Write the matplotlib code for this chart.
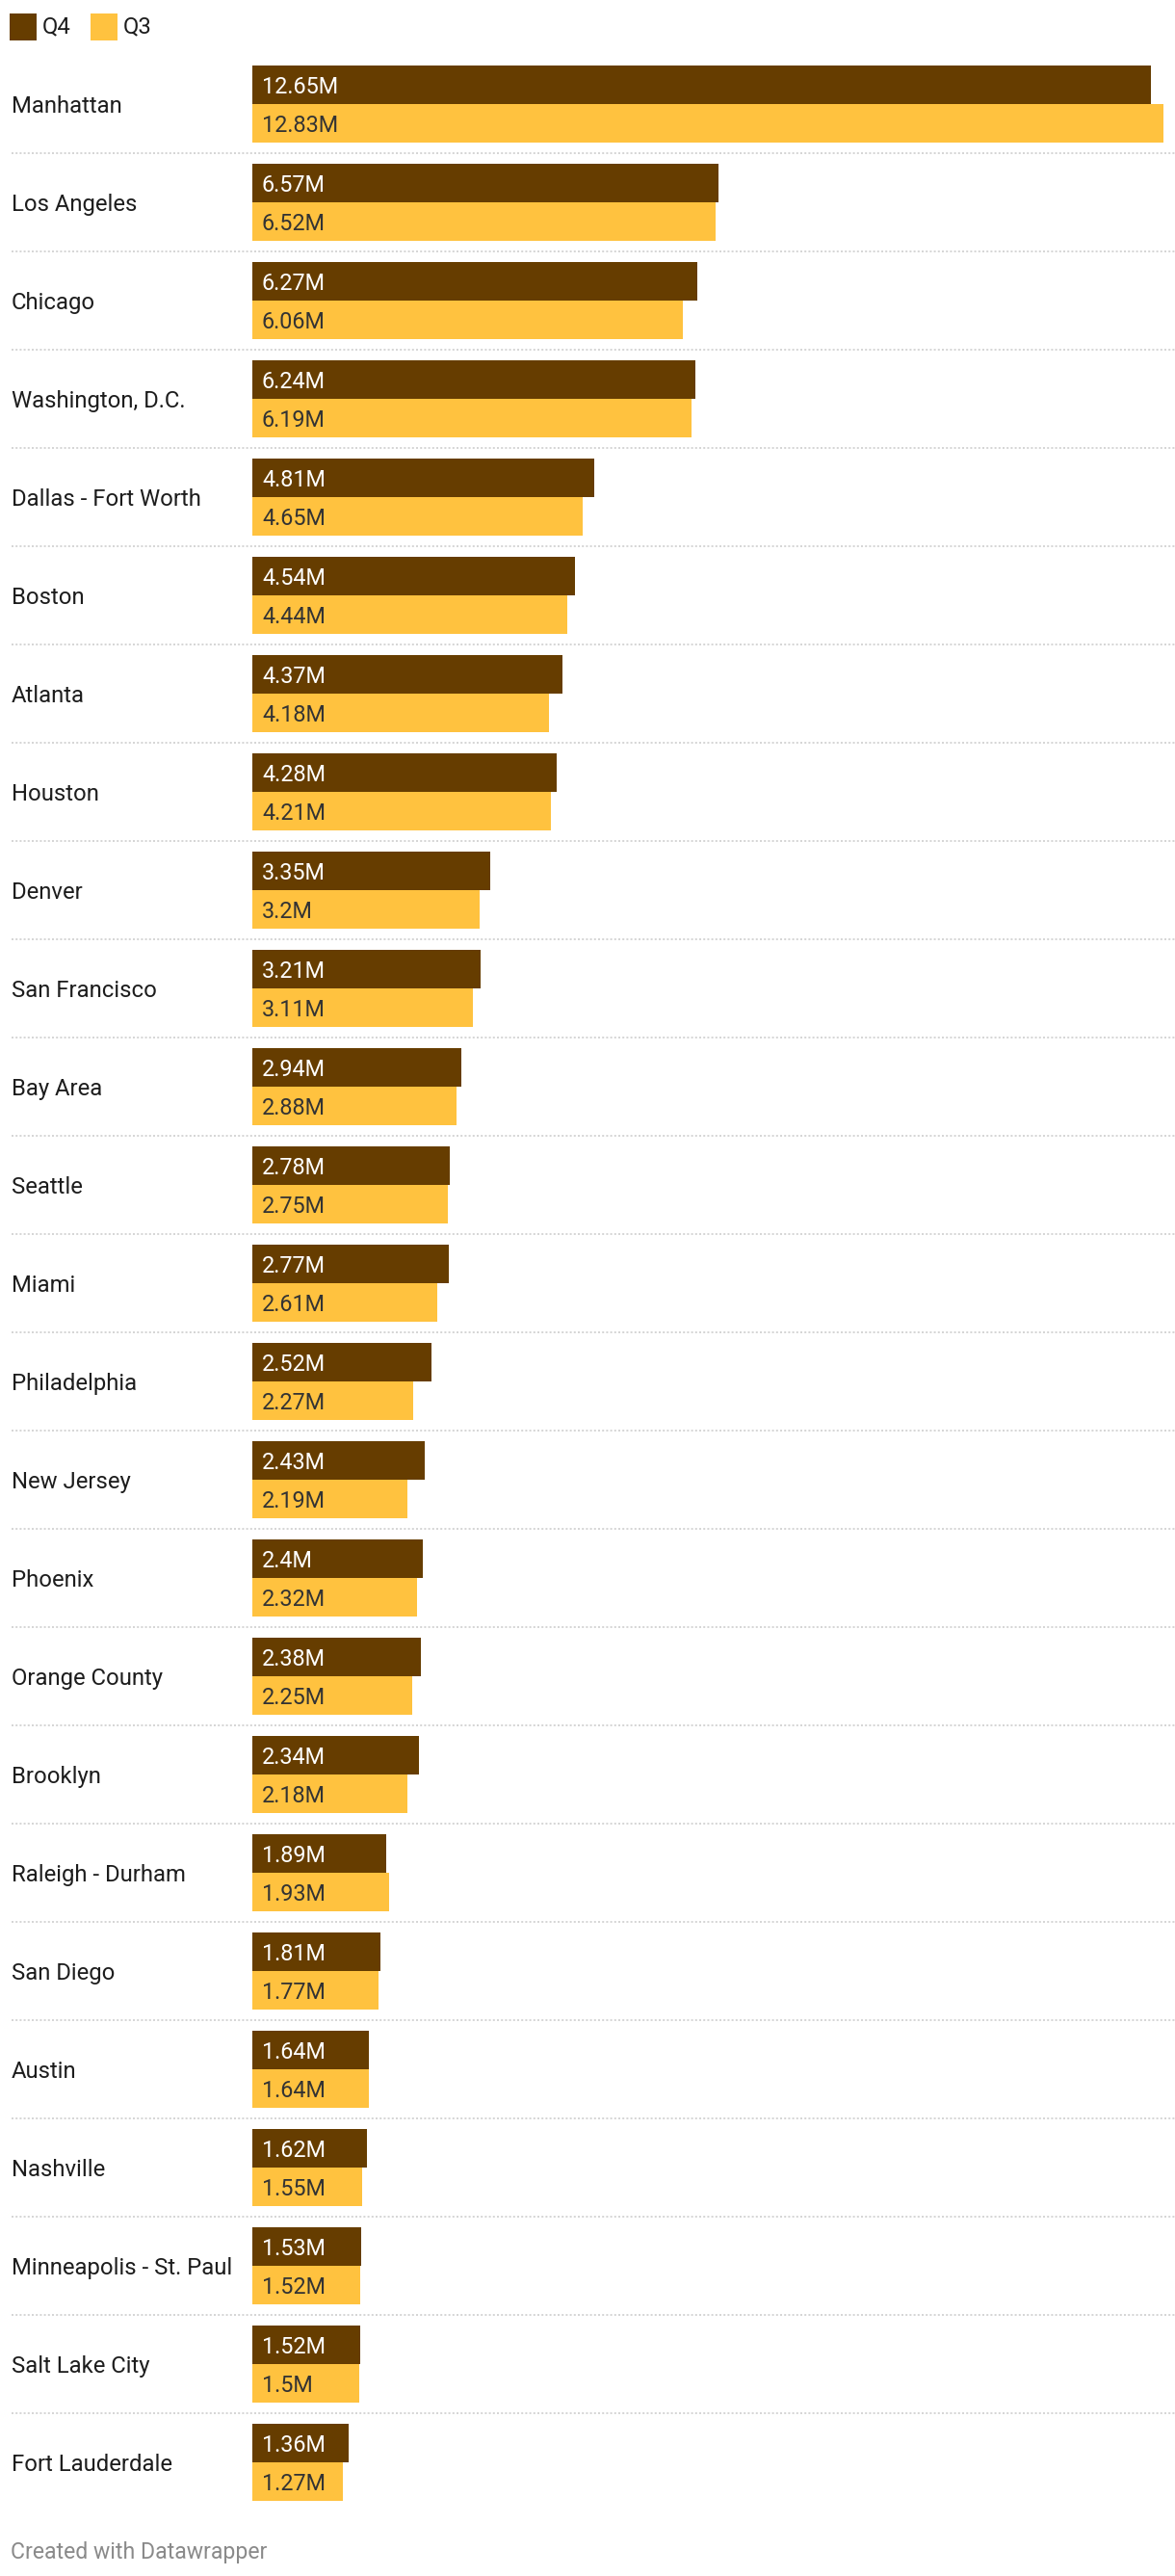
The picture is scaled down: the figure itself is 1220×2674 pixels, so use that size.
import numpy as np
import matplotlib
matplotlib.use("Agg")
import matplotlib.pyplot as plt
import matplotlib.transforms as mtransforms
from matplotlib.patches import Rectangle

plt.rcParams["font.family"] = ["Roboto", "DejaVu Sans"]

# données
cities = ["Manhattan", "Los Angeles", "Chicago", "Washington, D.C.", "Dallas - Fort Worth",
          "Boston", "Atlanta", "Houston", "Denver", "San Francisco", "Bay Area", "Seattle",
          "Miami", "Philadelphia", "New Jersey", "Phoenix", "Orange County", "Brooklyn",
          "Raleigh - Durham", "San Diego", "Austin", "Nashville", "Minneapolis - St. Paul",
          "Salt Lake City", "Fort Lauderdale"]
q4 = [12.65, 6.57, 6.27, 6.24, 4.81, 4.54, 4.37, 4.28, 3.35, 3.21, 2.94, 2.78, 2.77,
      2.52, 2.43, 2.4, 2.38, 2.34, 1.89, 1.81, 1.64, 1.62, 1.53, 1.52, 1.36]
q3 = [12.83, 6.52, 6.06, 6.19, 4.65, 4.44, 4.18, 4.21, 3.2, 3.11, 2.88, 2.75, 2.61,
      2.27, 2.19, 2.32, 2.25, 2.18, 1.93, 1.77, 1.64, 1.55, 1.52, 1.5, 1.27]
series = ["Q4", "Q3"]

C_Q4 = "#663d00"
C_Q3 = "#ffc23f"

W, H = 1220, 2674
fig = plt.figure(figsize=(W / 100, H / 100), dpi=100)
ax = fig.add_axes([0, 0, 1, 1])

# échelle : 0 à x=262px, 12.83 à x=1208px ; une ligne = 102px
px_per_m = (1208 - 262) / max(q3)
x0 = 262
ax.set_xlim(-x0 / px_per_m, (W - x0) / px_per_m)
row = 102
ax.set_ylim((H - 108) / row, -108 / row)
ax.axis("off")

y = np.arange(len(cities))
bh = 40 / row
ax.barh(y - bh / 2, q4, height=bh, color=C_Q4, linewidth=0)
ax.barh(y + bh / 2, q3, height=bh, color=C_Q3, linewidth=0)

label_tr = mtransforms.blended_transform_factory(fig.transFigure, ax.transData)
pad = 10 / px_per_m
base = 8.7 / row  # décalage de la ligne de base sous le centre
for i, c in enumerate(cities):
    ax.text(12 / W, i + base, c, transform=label_tr, va="baseline", ha="left",
            fontsize=17.2, color="#1d1d1d")
    ax.text(pad, i - bh / 2 + base, f"{q4[i]:g}M", va="baseline", ha="left",
            fontsize=16.8, color="white")
    ax.text(pad, i + bh / 2 + base, f"{q3[i]:g}M", va="baseline", ha="left",
            fontsize=16.8, color="#333333")
    if i < len(cities) - 1:
        ax.plot([12 / W, 1.0], [i + 0.5, i + 0.5], transform=label_tr, color="#d6d6d6",
                lw=1.44, linestyle=(0, (1, 1.1)), dash_capstyle="butt", clip_on=False)

# légende
for k, (name, col) in enumerate(zip(series, [C_Q4, C_Q3])):
    lx = 10 + k * 84
    fig.patches.append(Rectangle((lx / W, 1 - 42 / H), 28 / W, 28 / H,
                                 transform=fig.transFigure, color=col, lw=0))
    fig.text((lx + 34) / W, 1 - 34.3 / H, name, va="baseline", ha="left",
             fontsize=17.2, color="#1d1d1d")

fig.text(11 / W, 1 - 2656 / H, "Created with Datawrapper", va="baseline", ha="left",
         fontsize=16.6, color="#8a8a8a")

fig.savefig("out.png", dpi=100, facecolor="white")
